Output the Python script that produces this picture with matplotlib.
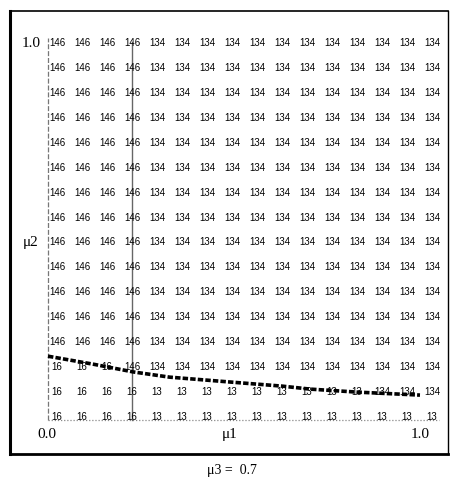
import matplotlib
matplotlib.use("Agg")
import matplotlib.pyplot as plt
import numpy as np
from matplotlib.lines import Line2D

# grid of mu1 / mu2 values (16 x 16)
mu1 = np.linspace(0.0, 1.0, 16)
mu2 = np.linspace(1.0, 0.0, 16)

# cell labels, top row (mu2 = 1.0) first
cells = [
    "146 146 146 146 134 134 134 134 134 134 134 134 134 134 134 134",
    "146 146 146 146 134 134 134 134 134 134 134 134 134 134 134 134",
    "146 146 146 146 134 134 134 134 134 134 134 134 134 134 134 134",
    "146 146 146 146 134 134 134 134 134 134 134 134 134 134 134 134",
    "146 146 146 146 134 134 134 134 134 134 134 134 134 134 134 134",
    "146 146 146 146 134 134 134 134 134 134 134 134 134 134 134 134",
    "146 146 146 146 134 134 134 134 134 134 134 134 134 134 134 134",
    "146 146 146 146 134 134 134 134 134 134 134 134 134 134 134 134",
    "146 146 146 146 134 134 134 134 134 134 134 134 134 134 134 134",
    "146 146 146 146 134 134 134 134 134 134 134 134 134 134 134 134",
    "146 146 146 146 134 134 134 134 134 134 134 134 134 134 134 134",
    "146 146 146 146 134 134 134 134 134 134 134 134 134 134 134 134",
    "146 146 146 146 134 134 134 134 134 134 134 134 134 134 134 134",
    "16 16 16 146 134 134 134 134 134 134 134 134 134 134 134 134",
    "16 16 16 16 13 13 13 13 13 13 13 13 13 134 134 134",
    "16 16 16 16 13 13 13 13 13 13 13 13 13 13 13 13",
]

# boundary curve
bnd_mu1 = [-0.024, 0.10, 0.203, 0.30, 0.461, 0.60, 0.675, 0.80, 0.968]
bnd_mu2 = [0.160, 0.138, 0.118, 0.104, 0.091, 0.080, 0.072, 0.064, 0.056]

split_mu1 = 0.2
mu3 = 0.7

W, H = 454, 481
fig = plt.figure(figsize=(W / 100, H / 100), dpi=100)
ax = fig.add_axes([0, 0, 1, 1])
ax.set_xlim(-0.152, 1.0587)
ax.set_ylim(-0.171, 1.115)
ax.axis("off")

# frame around the plot
fx0, fx1 = 10 / W, 448 / W
fy0, fy1 = 1 - 455 / H, 1 - 12 / H
fig.add_artist(Line2D([fx0, fx0], [fy0, fy1], color="black", lw=2.2, transform=fig.transFigure))
fig.add_artist(Line2D([fx0, fx1], [fy0, fy0], color="black", lw=2.0, transform=fig.transFigure))
fig.add_artist(Line2D([fx0, fx1], [fy1, fy1], color="black", lw=1.2, transform=fig.transFigure))
fig.add_artist(Line2D([fx1, fx1], [fy0, fy1], color="black", lw=1.0, transform=fig.transFigure))

# axes lines
ax.plot([-0.024, -0.024], [-0.011, 1.01], color="#777777", lw=0.9, ls=(0, (4, 1.5)))
ax.plot([-0.024, 1.02], [-0.011, -0.011], color="#888888", lw=0.9, ls=(0, (1, 1.5)))
ax.plot([split_mu1, split_mu1], [-0.011, 1.0], color="#666666", lw=1.0)

# cell values
for row, y in zip(cells, mu2):
    for val, x in zip(row.split(), mu1):
        ax.text(x, y, val, ha="center", va="center", fontsize=7,
                family="Liberation Sans", color="black")

# boundary
ax.plot(bnd_mu1, bnd_mu2, color="black", lw=2.6, ls=(0, (1.5, 0.6)))

serif = "Liberation Serif"
ax.text(-0.069, 1.0, "1.0", ha="center", va="center", fontsize=11, family=serif)
ax.text(-0.069, mu2[8], "\u03bc2", ha="center", va="center", fontsize=11, family=serif)
ax.text(-0.027, -0.048, "0.0", ha="center", va="center", fontsize=11, family=serif)
ax.text(0.461, -0.048, "\u03bc1", ha="center", va="center", fontsize=11, family=serif)
ax.text(0.968, -0.048, "1.0", ha="center", va="center", fontsize=11, family=serif)
fig.text(232 / W, 1 - 471 / H, f"\u03bc3 =  {mu3}", ha="center", va="center",
         fontsize=10, family=serif)

fig.savefig("out.png", dpi=100)
